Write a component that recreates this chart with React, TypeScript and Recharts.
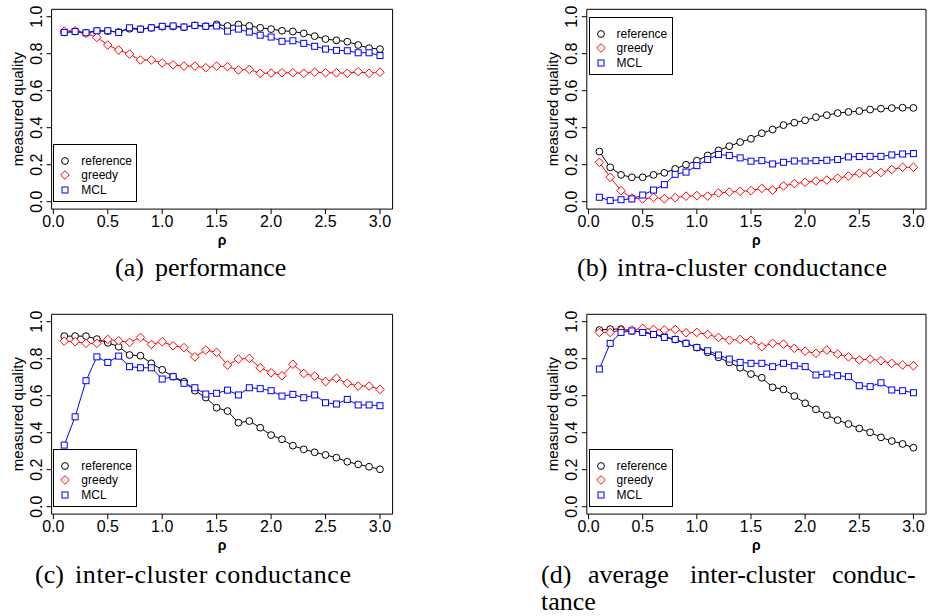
import React from "react";
import { LineChart, Line, XAxis, YAxis, ReferenceArea, Legend } from "recharts";

// rho values on the x axis
const rho = [
  0.1, 0.2, 0.3, 0.4, 0.5, 0.6, 0.7, 0.8, 0.9, 1.0, 1.1, 1.2, 1.3, 1.4, 1.5,
  1.6, 1.7, 1.8, 1.9, 2.0, 2.1, 2.2, 2.3, 2.4, 2.5, 2.6, 2.7, 2.8, 2.9, 3.0,
];

// (a) performance
const perfReference = [
  0.915, 0.92, 0.913, 0.922, 0.922, 0.917, 0.935, 0.932, 0.94, 0.946, 0.947, 0.943, 0.953, 0.948, 0.958,
  0.95, 0.958, 0.95, 0.94, 0.933, 0.924, 0.92, 0.91, 0.895, 0.879, 0.872, 0.865, 0.847, 0.83, 0.825,
];
const perfGreedy = [
  0.922, 0.924, 0.91, 0.888, 0.847, 0.82, 0.798, 0.766, 0.766, 0.75, 0.74, 0.733, 0.733, 0.724, 0.733,
  0.73, 0.712, 0.715, 0.694, 0.695, 0.697, 0.697, 0.694, 0.7, 0.697, 0.697, 0.694, 0.703, 0.694, 0.7,
];
const perfMcl = [
  0.915, 0.92, 0.913, 0.924, 0.924, 0.915, 0.94, 0.933, 0.94, 0.948, 0.95, 0.944, 0.953, 0.948, 0.95,
  0.922, 0.933, 0.917, 0.9, 0.89, 0.867, 0.87, 0.856, 0.84, 0.825, 0.818, 0.816, 0.805, 0.805, 0.79,
];

// (b) intra-cluster conductance
const intraReference = [
  0.271, 0.186, 0.145, 0.132, 0.132, 0.145, 0.156, 0.177, 0.2, 0.222, 0.25, 0.277, 0.3, 0.322, 0.34,
  0.37, 0.39, 0.414, 0.427, 0.44, 0.457, 0.468, 0.479, 0.485, 0.49, 0.498, 0.503, 0.506, 0.508, 0.507,
];
const intraGreedy = [
  0.213, 0.132, 0.06, 0.02, 0.015, 0.023, 0.016, 0.022, 0.03, 0.033, 0.03, 0.047, 0.052, 0.056, 0.06,
  0.072, 0.063, 0.085, 0.098, 0.105, 0.112, 0.117, 0.127, 0.139, 0.154, 0.156, 0.158, 0.174, 0.186, 0.186,
];
const intraMcl = [
  0.024, 0.006, 0.011, 0.015, 0.036, 0.063, 0.092, 0.148, 0.16, 0.195, 0.228, 0.255, 0.25, 0.237, 0.219,
  0.222, 0.204, 0.213, 0.22, 0.22, 0.222, 0.224, 0.228, 0.242, 0.244, 0.245, 0.245, 0.253, 0.258, 0.26,
];

// (c) inter-cluster conductance
const interReference = [
  0.922, 0.922, 0.922, 0.906, 0.886, 0.865, 0.82, 0.816, 0.775, 0.74, 0.703, 0.676, 0.627, 0.59, 0.535,
  0.517, 0.454, 0.463, 0.427, 0.387, 0.364, 0.33, 0.31, 0.294, 0.28, 0.265, 0.243, 0.229, 0.216, 0.202,
];
const interGreedy = [
  0.895, 0.892, 0.883, 0.883, 0.904, 0.897, 0.888, 0.915, 0.877, 0.892, 0.87, 0.86, 0.81, 0.847, 0.834,
  0.766, 0.798, 0.802, 0.751, 0.724, 0.708, 0.77, 0.72, 0.706, 0.676, 0.694, 0.667, 0.652, 0.652, 0.634,
];
const interMcl = [
  0.333, 0.486, 0.681, 0.81, 0.78, 0.814, 0.757, 0.751, 0.751, 0.69, 0.703, 0.667, 0.643, 0.609, 0.613,
  0.63, 0.604, 0.643, 0.638, 0.627, 0.598, 0.607, 0.589, 0.604, 0.562, 0.555, 0.58, 0.55, 0.55, 0.546,
];

// (d) average inter-cluster conductance
const avgReference = [
  0.955, 0.96, 0.96, 0.95, 0.946, 0.933, 0.919, 0.904, 0.883, 0.86, 0.834, 0.807, 0.78, 0.751, 0.717,
  0.697, 0.645, 0.634, 0.598, 0.559, 0.526, 0.495, 0.468, 0.447, 0.423, 0.402, 0.375, 0.355, 0.339, 0.319,
];
const avgGreedy = [
  0.942, 0.942, 0.955, 0.955, 0.964, 0.958, 0.955, 0.958, 0.94, 0.942, 0.931, 0.915, 0.9, 0.904, 0.9,
  0.865, 0.883, 0.879, 0.856, 0.841, 0.829, 0.847, 0.825, 0.81, 0.793, 0.798, 0.789, 0.775, 0.766, 0.762,
];
const avgMcl = [
  0.744, 0.883, 0.942, 0.95, 0.942, 0.931, 0.915, 0.904, 0.883, 0.861, 0.843, 0.82, 0.798, 0.78, 0.775,
  0.775, 0.757, 0.775, 0.762, 0.757, 0.712, 0.717, 0.708, 0.703, 0.654, 0.649, 0.67, 0.631, 0.627, 0.616,
];

const xTicks = [0, 0.5, 1, 1.5, 2, 2.5, 3];
const yTicks = [0, 0.2, 0.4, 0.6, 0.8, 1];

const SANS = '"Liberation Sans", Arial, Helvetica, sans-serif';
const SERIF = '"Liberation Serif", "Times New Roman", serif';

const X_DOMAIN: [number, number] = [-0.016, 3.116];
const Y_DOMAIN: [number, number] = [-0.04, 1.04];

const CHART_W = 465;
const CHART_H = 252;
const Y_AXIS_W = 40;
const X_AXIS_H = 30;
const BOX_T = 9.3;
const BOX_B = 209.1;
const LEGEND_W = 84;
const LEGEND_H = 58;

const SERIES = [
  { name: "reference", color: "#000000", marker: "circle" },
  { name: "greedy", color: "#ff0000", marker: "diamond" },
  { name: "MCL", color: "#0000ff", marker: "square" },
];

function Marker({ kind, cx, cy, color }: any) {
  if (cx == null || cy == null) return null;
  if (kind === "circle") {
    return <circle cx={cx} cy={cy} r={3.4} fill="#fff" stroke={color} strokeWidth={1} />;
  }
  if (kind === "diamond") {
    const d = 4.3;
    return (
      <polygon
        points={`${cx},${cy - d} ${cx + d},${cy} ${cx},${cy + d} ${cx - d},${cy}`}
        fill="#fff"
        stroke={color}
        strokeWidth={1}
      />
    );
  }
  return <rect x={cx - 3} y={cy - 3} width={6} height={6} fill="#fff" stroke={color} strokeWidth={1} />;
}

function YTick({ x, y, payload }: any) {
  return (
    <text
      transform={`translate(${x - 2},${y}) rotate(-90)`}
      textAnchor="middle"
      fill="#000"
      fontSize={16}
      fontFamily={SANS}
    >
      {Number(payload.value).toFixed(1)}
    </text>
  );
}

function XTick({ x, y, payload }: any) {
  return (
    <text x={x} y={y + 11} textAnchor="middle" fill="#000" fontSize={16} fontFamily={SANS}>
      {Number(payload.value).toFixed(1)}
    </text>
  );
}

function LegendBox({ payload }: any) {
  const items = payload || [];
  // keep the order in which the series are drawn
  const ordered = SERIES.filter((s) => items.some((it: any) => it.value === s.name));
  return (
    <div
      style={{
        width: LEGEND_W,
        height: LEGEND_H,
        border: "1px solid #000",
        boxSizing: "border-box",
        background: "#fff",
        position: "relative",
        fontFamily: SANS,
        fontSize: 12,
        color: "#000",
      }}
    >
      {ordered.map((s, i) => (
        <div
          key={s.name}
          style={{ position: "absolute", left: 0, top: 9 + i * 14.5, height: 14, display: "flex", alignItems: "center" }}
        >
          <svg width={22} height={14} style={{ display: "block" }}>
            <Marker kind={s.marker} cx={11} cy={7} color={s.color} />
          </svg>
          <span style={{ marginLeft: 5, lineHeight: "14px" }}>{s.name}</span>
        </div>
      ))}
    </div>
  );
}

type PanelProps = {
  left: number;
  top: number;
  boxL: number;
  boxR: number;
  legendAt: "top" | "bottom";
  reference: number[];
  greedy: number[];
  mcl: number[];
};

function Panel({ left, top, boxL, boxR, legendAt, reference, greedy, mcl }: PanelProps) {
  const rows = rho.map((r, i) => ({ rho: r, reference: reference[i], greedy: greedy[i], MCL: mcl[i] }));
  const xPix = (v: number) => boxL + ((v - X_DOMAIN[0]) / (X_DOMAIN[1] - X_DOMAIN[0])) * (boxR - boxL);
  const yPix = (v: number) => BOX_B - ((v - Y_DOMAIN[0]) / (Y_DOMAIN[1] - Y_DOMAIN[0])) * (BOX_B - BOX_T);
  const legendLeft = xPix(0);
  const legendTop = legendAt === "top" ? yPix(1) : yPix(0) - LEGEND_H;

  return (
    <div style={{ position: "absolute", left, top }}>
      <LineChart
        width={CHART_W}
        height={CHART_H}
        data={rows}
        margin={{
          top: BOX_T,
          right: CHART_W - boxR,
          bottom: CHART_H - BOX_B - X_AXIS_H,
          left: boxL - Y_AXIS_W,
        }}
      >
        <XAxis
          type="number"
          dataKey="rho"
          domain={X_DOMAIN}
          ticks={xTicks}
          interval={0}
          allowDataOverflow
          axisLine={false}
          tickLine={{ stroke: "#000" }}
          tickSize={5}
          tickMargin={2}
          height={X_AXIS_H}
          tick={<XTick />}
          label={{
            value: "ρ",
            content: (p: any) => (
              <text
                x={p.viewBox.x + p.viewBox.width / 2}
                y={p.viewBox.y + 36}
                textAnchor="middle"
                fontSize={14}
                fontWeight="bold"
                fontFamily={SANS}
                fill="#000"
              >
                ρ
              </text>
            ),
          }}
        />
        <YAxis
          type="number"
          domain={Y_DOMAIN}
          ticks={yTicks}
          interval={0}
          allowDataOverflow
          axisLine={false}
          tickLine={{ stroke: "#000" }}
          tickSize={5}
          tickMargin={3}
          width={Y_AXIS_W}
          tick={<YTick />}
          label={{
            value: "measured quality",
            content: (p: any) => {
              const cx = p.viewBox.x + 11;
              const cy = p.viewBox.y + p.viewBox.height / 2;
              return (
                <text
                  transform={`translate(${cx},${cy}) rotate(-90)`}
                  textAnchor="middle"
                  fontSize={15}
                  fontFamily={SANS}
                  fill="#000"
                >
                  measured quality
                </text>
              );
            },
          }}
        />
        <ReferenceArea
          x1={X_DOMAIN[0]}
          x2={X_DOMAIN[1]}
          y1={Y_DOMAIN[0]}
          y2={Y_DOMAIN[1]}
          fill="none"
          fillOpacity={0}
          stroke="#000"
          strokeWidth={1}
          ifOverflow="visible"
        />
        {SERIES.map((s) => (
          <Line
            key={s.name}
            type="linear"
            dataKey={s.name}
            name={s.name}
            stroke={s.color}
            strokeWidth={1}
            isAnimationActive={false}
            activeDot={false}
            dot={(p: any) => <Marker key={`${s.name}-${p.index}`} kind={s.marker} cx={p.cx} cy={p.cy} color={s.color} />}
          />
        ))}
        <Legend
          layout="vertical"
          align="center"
          verticalAlign="middle"
          content={<LegendBox />}
          wrapperStyle={{ position: "absolute", left: legendLeft, top: legendTop, width: LEGEND_W, height: LEGEND_H, margin: 0, padding: 0 }}
        />
      </LineChart>
    </div>
  );
}

function Caption({ x, y, label, words, wordsWidth }: { x: number; y: number; label: string; words: string; wordsWidth?: number }) {
  return (
    <text y={y} fontFamily={SERIF} fontSize={26} fill="#000">
      <tspan x={x}>{label}</tspan>
      <tspan x={x + 40} textLength={wordsWidth} lengthAdjust={wordsWidth ? "spacing" : undefined}>
        {words}
      </tspan>
    </text>
  );
}

export default function App() {
  return (
    <div style={{ position: "absolute", left: 0, top: 0, width: 930, height: 616, background: "#fff", overflow: "hidden" }}>
      <Panel left={0} top={0} boxL={51.6} boxR={392.6} legendAt="bottom" reference={perfReference} greedy={perfGreedy} mcl={perfMcl} />
      <Panel left={465} top={0} boxL={121.8} boxR={461} legendAt="top" reference={intraReference} greedy={intraGreedy} mcl={intraMcl} />
      <Panel left={0} top={305} boxL={51.6} boxR={392.6} legendAt="bottom" reference={interReference} greedy={interGreedy} mcl={interMcl} />
      <Panel left={465} top={305} boxL={121.8} boxR={461} legendAt="bottom" reference={avgReference} greedy={avgGreedy} mcl={avgMcl} />
      <svg width={930} height={616} style={{ position: "absolute", left: 0, top: 0, pointerEvents: "none" }}>
        <Caption x={115} y={276} label="(a)" words="performance" />
        <Caption x={577} y={276} label="(b)" words="intra-cluster conductance" wordsWidth={270} />
        <Caption x={35} y={583} label="(c)" words="inter-cluster conductance" wordsWidth={276} />
        <text y={583} fontFamily={SERIF} fontSize={26} fill="#000">
          <tspan x={541}>(d)</tspan>
          <tspan x={588}>average</tspan>
          <tspan x={690}>inter-cluster</tspan>
          <tspan x={832}>conduc-</tspan>
        </text>
        <text x={541} y={610} fontFamily={SERIF} fontSize={26} fill="#000">
          tance
        </text>
      </svg>
    </div>
  );
}
